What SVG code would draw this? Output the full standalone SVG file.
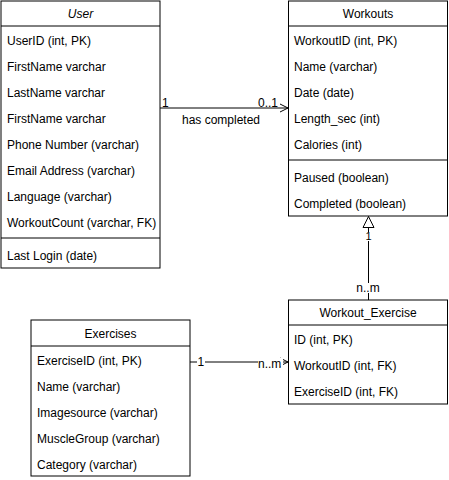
<svg xmlns="http://www.w3.org/2000/svg" width="449" height="480" viewBox="0 0 449 480">
<style>
text{font-family:"Liberation Sans",Arial,sans-serif;font-size:12px;fill:#000}
.box{fill:#fff;stroke:#000;stroke-width:1}
.ln{stroke:#000;stroke-width:1;fill:none}
.h{text-anchor:middle}
.lbl{font-size:11px}
.bg{fill:#fff}
</style>
<defs>
<marker id="open" markerWidth="10" markerHeight="10" refX="9" refY="5" orient="auto" markerUnits="userSpaceOnUse">
<path d="M1,1 L9,5 L1,9" fill="none" stroke="#000"/>
</marker>
<marker id="tri" markerWidth="13" markerHeight="13" refX="12" refY="6.5" orient="auto" markerUnits="userSpaceOnUse">
<path d="M1,1 L12,6.5 L1,12 Z" fill="#fff" stroke="#000"/>
</marker>
</defs>
<rect width="449" height="480" fill="#fff"/>
<g id="connectors">
<path class="ln" d="M160,108 L288,108" marker-end="url(#open)"/>
<text x="162" y="107">1</text>
<text x="258" y="107">0..1</text>
<text class="h" x="221" y="124">has completed</text>
<path class="ln" d="M368.5,300 L368.5,216.5" marker-end="url(#tri)"/>
<rect class="bg" x="364.5" y="232" width="8" height="9"/>
<text class="h lbl" x="368.5" y="240">1</text>
<rect class="bg" x="355" y="283" width="27" height="10"/>
<text class="h" x="368" y="292">n..m</text>
<path class="ln" d="M190,362 L288,362" marker-end="url(#open)"/>
<rect class="bg" x="197" y="356" width="8" height="11"/>
<text x="197.5" y="366">1</text>
<rect class="bg" x="258" y="358" width="25" height="8"/>
<text x="258" y="368">n..m</text>
</g>
<g id="user">
<rect class="box" x="1" y="1" width="159" height="267"/>
<line class="ln" x1="1" y1="26" x2="160" y2="26"/>
<line class="ln" x1="1" y1="238" x2="160" y2="238"/>
<text class="h" x="80.5" y="18" font-style="italic">User</text>
<text x="7" y="45">UserID (int, PK)</text>
<text x="7" y="71">FirstName varchar</text>
<text x="7" y="97">LastName varchar</text>
<text x="7" y="123">FirstName varchar</text>
<text x="7" y="149">Phone Number (varchar)</text>
<text x="7" y="175">Email Address (varchar)</text>
<text x="7" y="201">Language (varchar)</text>
<text x="7" y="227">WorkoutCount (varchar, FK)</text>
<text x="7" y="260">Last Login (date)</text>
</g>
<g id="workouts">
<rect class="box" x="288.5" y="1" width="159" height="215"/>
<line class="ln" x1="288.5" y1="26" x2="447.5" y2="26"/>
<line class="ln" x1="288.5" y1="160" x2="447.5" y2="160"/>
<text class="h" x="368" y="18">Workouts</text>
<text x="294" y="45">WorkoutID (int, PK)</text>
<text x="294" y="71">Name (varchar)</text>
<text x="294" y="97">Date (date)</text>
<text x="294" y="123">Length_sec (int)</text>
<text x="294" y="149">Calories (int)</text>
<text x="294" y="182">Paused (boolean)</text>
<text x="294" y="208">Completed (boolean)</text>
</g>
<g id="workout_exercise">
<rect class="box" x="288.5" y="300" width="159" height="104"/>
<line class="ln" x1="288.5" y1="325" x2="447.5" y2="325"/>
<text class="h" x="368" y="317">Workout_Exercise</text>
<text x="294" y="344">ID (int, PK)</text>
<text x="294" y="370">WorkoutID (int, FK)</text>
<text x="294" y="396">ExerciseID (int, FK)</text>
</g>
<g id="exercises">
<rect class="box" x="31" y="320" width="159" height="156"/>
<line class="ln" x1="31" y1="346" x2="190" y2="346"/>
<text class="h" x="110.5" y="338">Exercises</text>
<text x="37" y="365">ExerciseID (int, PK)</text>
<text x="37" y="391">Name (varchar)</text>
<text x="37" y="417">Imagesource (varchar)</text>
<text x="37" y="443">MuscleGroup (varchar)</text>
<text x="37" y="469">Category (varchar)</text>
</g>
</svg>
